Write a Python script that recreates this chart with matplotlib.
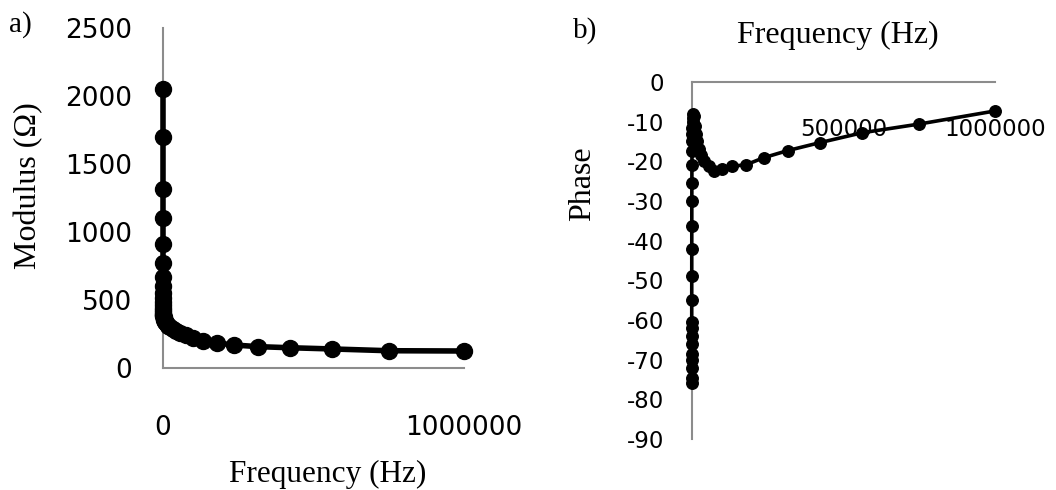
import matplotlib
matplotlib.use("Agg")
import matplotlib.pyplot as plt

# ---- data ----
freq_hz = [10, 13.3, 17.8, 23.7, 31.6, 42.2, 56.2, 75, 100, 133, 178, 237, 316, 422, 562, 750,
           1000, 1330, 1780, 2370, 3160, 4220, 5620, 7500, 10000, 13300, 17800, 23700, 31600,
           42200, 56200, 75000, 100000, 133000, 178000, 237000, 316000, 422000, 562000,
           750000, 1000000]
modulus_ohm = [2051, 1698, 1316, 1103, 912, 772, 669, 600, 555, 515, 485, 460, 440, 425, 410, 400,
               390, 382, 375, 368, 360, 352, 345, 335, 330, 320, 308, 298, 284,
               270, 257, 240, 220, 196, 184, 169, 157, 149, 140, 127, 125]
phase_deg = [-76, -74.5, -72, -70, -68.5, -66, -64, -62, -60.5, -55, -49, -42, -36.4, -30, -25.4, -21,
             -17.5, -15, -13, -11.5, -10, -9, -8, -8.5, -11, -13, -15, -17, -18.5,
             -20, -21.2, -22.4, -21.9, -21.2, -20.9, -19.1, -17.3, -15.3, -12.8, -10.6, -7.3]

mod_yticks = [0, 500, 1000, 1500, 2000, 2500]
mod_xticks = [0, 1000000]
ph_yticks = [0, -10, -20, -30, -40, -50, -60, -70, -80, -90]
ph_xticks = [500000, 1000000]

plt.rcParams['axes.unicode_minus'] = False
W, H = 1056, 490
fig = plt.figure(figsize=(W / 100, H / 100), dpi=100)
serif = ['Liberation Serif', 'DejaVu Serif']
sans = 'DejaVu Sans'
spine_col = '#8c8c8c'

def px_axes(x0, x1, ytop, ybot):
    return fig.add_axes([x0 / W, 1 - ybot / H, (x1 - x0) / W, (ybot - ytop) / H])

# ---- panel a ----
ax1 = px_axes(163, 464, 28, 368)
ax1.plot(freq_hz, modulus_ohm, color='black', lw=4, marker='o', ms=11.5, clip_on=False, zorder=3)
ax1.set_xlim(0, 1000000)
ax1.set_ylim(0, 2500)
ax1.set_yticks(mod_yticks)
ax1.set_yticklabels([str(v) for v in mod_yticks])
ax1.set_xticks(mod_xticks)
ax1.set_xticklabels([str(v) for v in mod_xticks])
for s in ['top', 'right']:
    ax1.spines[s].set_visible(False)
for s in ['left', 'bottom']:
    ax1.spines[s].set_color(spine_col)
    ax1.spines[s].set_linewidth(1.5)
ax1.tick_params(axis='y', length=0, pad=22, labelsize=19)
ax1.tick_params(axis='x', length=0, pad=34, labelsize=19)
for lab in ax1.get_xticklabels() + ax1.get_yticklabels():
    lab.set_fontfamily(sans)
ax1.set_axisbelow(True)

# ---- panel b ----
ax2 = px_axes(691.7, 995, 82, 439)
ax2.plot(freq_hz, phase_deg, color='black', lw=2.6, marker='o', ms=8.3, clip_on=False, zorder=3)
ax2.set_xlim(0, 1000000)
ax2.set_ylim(-90, 0)
ax2.set_yticks(ph_yticks)
ax2.set_yticklabels([str(v) for v in ph_yticks])
ax2.set_xticks(ph_xticks)
ax2.set_xticklabels([str(v) for v in ph_xticks])
ax2.spines['bottom'].set_position(('data', 0))
for s in ['top', 'right']:
    ax2.spines[s].set_visible(False)
for s in ['left', 'bottom']:
    ax2.spines[s].set_color(spine_col)
    ax2.spines[s].set_linewidth(1.5)
ax2.tick_params(axis='y', length=0, pad=20, labelsize=16.5)
ax2.tick_params(axis='x', length=0, pad=26, labelsize=16.5)
for lab in ax2.get_xticklabels() + ax2.get_yticklabels():
    lab.set_fontfamily(sans)
ax2.set_axisbelow(True)

# ---- titles / labels ----
def ftext(x, y, s, **kw):
    fig.text(x / W, 1 - y / H, s, family=serif, ha='center', va='center', **kw)

ftext(328, 474, 'Frequency (Hz)', fontsize=22.5)
ftext(29, 186, 'Modulus (Ω)', fontsize=23, rotation=90)
ftext(838, 35, 'Frequency (Hz)', fontsize=23)
ftext(583, 184, 'Phase', fontsize=23, rotation=90)
ftext(20, 25, 'a)', fontsize=21)
ftext(585, 31, 'b)', fontsize=21)

fig.savefig('out.png', dpi=100)
